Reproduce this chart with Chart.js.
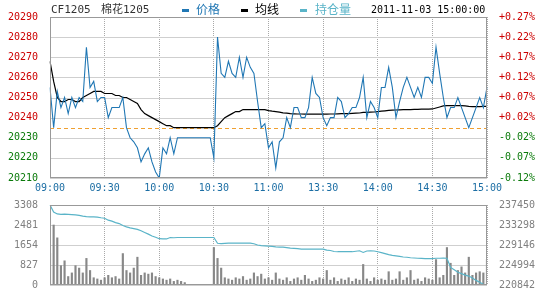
<!DOCTYPE html>
<html><head><meta charset="utf-8">
<script src="https://cdn.jsdelivr.net/npm/chart.js@4"></script>
<style>
body{margin:0;background:#fff;width:540px;height:300px;position:relative;overflow:hidden;font-family:"DejaVu Sans Mono","Noto Sans CJK SC",monospace;}
canvas{position:absolute;left:0}
#top{top:0}
#bot{top:195px}
.t{position:absolute;top:3px;font-size:11px;line-height:14px;white-space:nowrap}
.mk{position:absolute;top:9px;width:7px;height:3px}
</style></head><body>
<canvas id="top" width="540" height="195"></canvas>
<canvas id="bot" width="540" height="105"></canvas>
<div class="t" style="left:51px;color:#333">CF1205</div>
<div class="t" style="left:101px;color:#333">棉花1205</div>
<div class="mk" style="left:182px;background:#2077b4"></div>
<div class="t" style="left:196px;color:#2077b4;font-size:12px">价格</div>
<div class="mk" style="left:241px;background:#000"></div>
<div class="t" style="left:255px;color:#000;font-size:12px">均线</div>
<div class="mk" style="left:300px;background:#5ab4c8"></div>
<div class="t" style="left:315px;color:#5ab4c8;font-size:12px">持仓量</div>
<div class="t" style="left:371px;color:#000;font-size:10px">2011-11-03 15:00:00</div>
<script>
Chart.defaults.font.family='"DejaVu Sans Mono",monospace';
Chart.defaults.font.size=10;
const el=id=>document.getElementById(id);

const BASE=20235; // prev settle
const TIME_TICKS=["09:00","09:30","10:00","10:30","11:00","13:30","14:00","14:30","15:00"];
// 2-minute samples, 09:00 .. 15:00 (trading minutes only)
const PRICE=[
 20255,20235,20253,20245,20250,20242,20250,20245,20250,20248,20275,20255,20258,20248,20250,
 20250,20240,20245,20245,20245,20250,20235,20230,20228,20225,20218,20222,20225,20218,20213,
 20210,20225,20222,20230,20222,20230,20230,20230,20230,20230,20230,20230,20230,20230,20230,
 20220,20280,20262,20260,20268,20262,20260,20270,20260,20270,20265,20262,20248,20235,20237,
 20225,20228,20215,20228,20230,20240,20235,20245,20245,20240,20240,20245,20260,20252,20250,
 20240,20236,20240,20240,20250,20248,20240,20242,20245,20245,20250,20260,20240,20248,20245,
 20240,20255,20255,20265,20255,20240,20248,20255,20260,20255,20250,20255,20250,20260,20260,
 20257,20275,20262,20250,20240,20245,20245,20250,20245,20240,20235,20240,20245,20250,20245,20255];
const AVG=[
 20268,20258,20250,20248,20248,20249,20249,20248,20248,20250,20251,20252,20253,20253,20253,
 20252,20252,20252,20251,20251,20250,20250,20249,20248,20247,20244,20242,20241,20240,20239,
 20238,20237,20236,20236,20235,20235,20235,20235,20235,20235,20235,20235,20235,20235,20235,
 20235,20236,20238,20240,20241,20242,20243,20243,20244,20244,20244,20244,20244,20244,20244,
 20243.5,20243.2,20243,20242.7,20242.4,20242.2,20242,20241.9,20241.8,20241.8,20241.7,20241.7,20241.7,20241.7,20241.7,
 20241.7,20241.7,20241.8,20241.8,20241.9,20242,20242,20242,20242.1,20242.2,20242.3,20242.6,20242.6,20242.7,20242.8,
 20243,20243.2,20243.4,20243.6,20243.7,20243.8,20243.9,20244,20244,20244,20244.1,20244.1,20244.2,20244.2,20244.2,
 20244.3,20244.8,20245.3,20245.8,20246,20246,20246,20246,20246,20245.8,20245.6,20245.5,20245.5,20245.5,20245.6,20245.6];
const OI=[
 237450,236000,235600,235500,235550,235500,235450,235400,235300,235150,235050,235000,235000,234950,234800,
 234700,234300,234100,233800,233600,233200,232900,232700,232550,232400,232100,231750,231400,231000,230750,
 230450,230400,230400,230700,230650,230700,230700,230700,230700,230700,230700,230700,230700,230700,230700,
 230700,229500,229450,229500,229550,229550,229550,229550,229550,229550,229550,229400,229150,229000,228950,
 228900,228850,228750,228700,228700,228600,228500,228450,228400,228300,228300,228300,228300,228300,228300,
 228300,228100,228000,227800,227750,227750,227750,227750,227750,227850,227950,227600,227900,227950,227900,
 227750,227550,227350,227150,227000,226900,226800,226650,226600,226500,226450,226400,226350,226300,226300,
 226300,226400,226400,226450,226400,224500,224000,223500,223200,222900,222700,222300,221800,221400,221000,220842];
const VOL=[
 1300,2480,1950,800,1000,350,500,800,700,500,1100,600,300,250,200,
 300,400,300,350,250,1300,600,500,700,1150,400,500,450,500,350,
 300,250,200,250,150,200,150,100,0,0,0,0,0,0,0,
 1550,1100,700,300,250,200,300,250,350,200,250,500,350,450,250,
 300,200,500,250,200,300,150,250,300,200,400,250,150,200,300,
 250,600,200,300,150,250,200,300,150,250,200,850,250,150,300,
 200,250,200,550,200,250,550,200,300,600,200,250,150,300,250,
 200,1050,300,400,1550,900,400,600,750,500,1150,400,500,550,500,1050];
const PRICE_TICKS=[20210,20220,20230,20240,20250,20260,20270,20280,20290];
const VOL_TICKS=[0,827,1654,2481,3308];
const OI_TICKS=[220842,224994,229146,233298,237450];
const LABELS=PRICE.map((_,i)=>i);

const GRID="#a8a8a8";
// horizontal grid from the y scale's ticks, dashed prev-settle line, plot frame
const frame={id:"frame",
  beforeDatasetsDraw(c,a,o){
    const ctx=c.ctx,ca=c.chartArea,sy=c.scales.y;
    ctx.save();ctx.lineWidth=1;ctx.strokeStyle="#cfcfcf";ctx.setLineDash([]);
    sy.ticks.forEach(t=>{const y=Math.round(sy.getPixelForValue(t.value))+.5;
      ctx.beginPath();ctx.moveTo(ca.left,y);ctx.lineTo(ca.right,y);ctx.stroke();});
    if(o.base!=null){
      const y=Math.round(sy.getPixelForValue(o.base))+.5;
      ctx.strokeStyle="#f0a030";ctx.setLineDash([4,3]);
      ctx.beginPath();ctx.moveTo(ca.left,y);ctx.lineTo(ca.right,y);ctx.stroke();
    }
    ctx.restore();
  },
  afterDraw(c){
    const ctx=c.ctx,ca=c.chartArea;
    ctx.save();ctx.strokeStyle="#999";ctx.lineWidth=1;
    ctx.strokeRect(Math.round(ca.left)+.5,Math.round(ca.top)+.5,Math.round(ca.width)-1,Math.round(ca.height)-1);
    ctx.restore();
  }};
const setTicks=arr=>s=>{s.ticks=arr.map(v=>({value:v}));};
const xGrid={color:c=>c.index%15===0?GRID:"rgba(0,0,0,0)",lineWidth:1,drawTicks:false,offset:false};
const DOTS={display:false,dash:[1,1]};
const updown=c=>c.tick.value>=BASE?"#cc0000":"#0a7a0a";
const pct=v=>{const p=(v/BASE-1)*100;return (p>=0?"+":"-")+Math.abs(p).toFixed(2)+"%";};

new Chart(el("top"),{type:"line",
  data:{labels:LABELS,datasets:[
    {data:PRICE,borderColor:"#2077b4",borderWidth:1.1,pointRadius:0,tension:0},
    {data:AVG,borderColor:"#000",borderWidth:1.2,pointRadius:0,tension:0}]},
  options:{responsive:false,animation:false,events:[],
    layout:{padding:{top:17}},
    plugins:{legend:{display:false},tooltip:{enabled:false},frame:{base:BASE}},
    scales:{
      x:{grid:xGrid,border:DOTS,afterFit:s=>{s.height=17;},
        ticks:{autoSkip:false,maxRotation:0,padding:4,color:"#1c6ea4",callback:(v,i)=>i%15===0?TIME_TICKS[i/15]:""}},
      y:{min:20210,max:20290,afterBuildTicks:setTicks(PRICE_TICKS),afterFit:s=>{s.width=50;},
        grid:{display:false},border:{display:false},
        ticks:{padding:4,color:updown,callback:v=>String(v)}},
      y1:{position:"right",min:20210,max:20290,afterBuildTicks:setTicks(PRICE_TICKS),afterFit:s=>{s.width=53;},
        grid:{display:false},border:{display:false},
        ticks:{padding:4,color:updown,callback:v=>pct(v)}}}},
  plugins:[frame]});

new Chart(el("bot"),{type:"bar",
  data:{labels:LABELS,datasets:[
    {type:"line",data:OI,yAxisID:"y1",borderColor:"#5ab4c8",borderWidth:1.2,pointRadius:0,tension:0,order:0},
    {data:VOL,yAxisID:"y",backgroundColor:"#888",barThickness:1.5,order:1}]},
  options:{responsive:false,animation:false,events:[],
    layout:{padding:{top:6}},
    plugins:{legend:{display:false},tooltip:{enabled:false},frame:{}},
    scales:{
      x:{offset:false,grid:xGrid,border:DOTS,ticks:{display:false},afterFit:s=>{s.height=15;}},
      y:{min:0,max:3308,afterBuildTicks:setTicks(VOL_TICKS),afterFit:s=>{s.width=50;},
        grid:{display:false},border:{display:false},
        ticks:{padding:4,color:"#808080",callback:v=>String(v)}},
      y1:{position:"right",min:220842,max:237450,afterBuildTicks:setTicks(OI_TICKS),afterFit:s=>{s.width=53;},
        grid:{display:false},border:{display:false},
        ticks:{padding:4,color:"#808080",callback:v=>String(v)}}}},
  plugins:[frame]});
</script>
</body></html>
